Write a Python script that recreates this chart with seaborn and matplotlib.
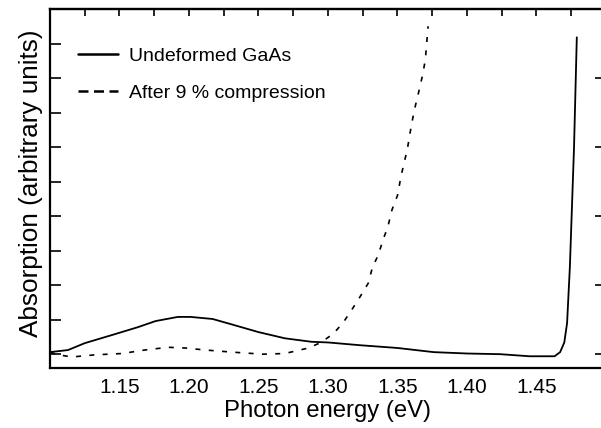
import numpy as np
import pandas as pd
import matplotlib
matplotlib.use("Agg")
import matplotlib.pyplot as plt
import seaborn as sns
from matplotlib.ticker import MultipleLocator, NullFormatter
from matplotlib.lines import Line2D

# Undeformed GaAs
x_undef = [1.100, 1.113, 1.125, 1.145, 1.163, 1.176, 1.192, 1.201, 1.217, 1.231,
           1.250, 1.269, 1.288, 1.300, 1.323, 1.350, 1.376, 1.400, 1.424, 1.445,
           1.463, 1.467, 1.470, 1.472, 1.474, 1.477, 1.479]
y_undef = [0.03, 0.06, 0.16, 0.28, 0.39, 0.48, 0.54, 0.54, 0.51, 0.43,
           0.32, 0.23, 0.18, 0.17, 0.13, 0.09, 0.03, 0.01, 0.00, -0.03,
           -0.03, 0.03, 0.17, 0.45, 1.26, 3.00, 4.59]

# After 9 % compression
x_comp = [1.100, 1.106, 1.116, 1.132, 1.152, 1.168, 1.185, 1.197, 1.212, 1.231,
          1.253, 1.269, 1.286, 1.295, 1.304, 1.311, 1.317, 1.323, 1.329, 1.332,
          1.336, 1.340, 1.343, 1.346, 1.350, 1.352, 1.354, 1.357, 1.359, 1.361,
          1.363, 1.366, 1.368, 1.370, 1.372]
y_comp = [0.03, -0.01, -0.04, -0.01, 0.01, 0.06, 0.10, 0.09, 0.06, 0.03,
          0.00, 0.01, 0.09, 0.17, 0.30, 0.46, 0.64, 0.83, 1.03, 1.26,
          1.43, 1.68, 1.84, 2.09, 2.30, 2.52, 2.71, 2.96, 3.20, 3.42,
          3.61, 3.86, 4.04, 4.26, 4.75]

labels = ["Undeformed GaAs", "After 9 % compression"]
xticks = [1.15, 1.20, 1.25, 1.30, 1.35, 1.40, 1.45]

sns.set_theme(style="white")
plt.rcParams['font.family'] = ['Liberation Sans', 'DejaVu Sans']
plt.rcParams.update({"text.color": "black", "axes.labelcolor": "black",
                     "xtick.color": "black", "ytick.color": "black"})

fig = plt.figure(figsize=(6.01, 4.28), dpi=100)
ax = fig.add_axes([50/601, 1-368/428, 556/601, 359/428])

df1 = pd.DataFrame({"x": x_undef, "y": y_undef})
df2 = pd.DataFrame({"x": x_comp, "y": y_comp})
sns.lineplot(data=df1, x="x", y="y", ax=ax, color="black", lw=1.3,
             sort=False, legend=False)
sns.lineplot(data=df2, x="x", y="y", ax=ax, color="black", lw=1.2,
             linestyle=(0, (3, 5)), sort=False, legend=False)

ax.set_xlim(1.10, 1.50)
ax.set_ylim(-0.2, 5.0)
ax.set_xticks(xticks)
ax.set_xticklabels([f"{t:.2f}" for t in xticks])
ax.xaxis.set_minor_locator(MultipleLocator(0.025))
ax.yaxis.set_major_locator(MultipleLocator(1))
ax.yaxis.set_minor_locator(MultipleLocator(0.5))
ax.yaxis.set_major_formatter(NullFormatter())
ax.tick_params(axis="x", which="major", direction="in", length=8, width=1.2,
               top=False, labelsize=15, pad=7, colors="black")
ax.tick_params(axis="x", which="minor", direction="in", length=5, width=1.2, top=False)
ax.tick_params(axis="y", which="major", direction="in", length=8, width=1.2,
               right=True, left=True)
ax.tick_params(axis="y", which="minor", direction="in", length=8, width=1.2,
               left=True, right=False)
for s in ax.spines.values():
    s.set_color("black")
    s.set_linewidth(1.6)

# top ticks all the same short length
top = ax.secondary_xaxis("top")
top.set_xticks(np.arange(1.125, 1.49, 0.025))
top.tick_params(axis="x", direction="in", length=5, width=1.2, labeltop=False,
                colors="black")
top.xaxis.set_major_formatter(NullFormatter())
top.spines["top"].set_linewidth(1.6)

ax.set_xlabel("Photon energy (eV)", fontsize=17.2, labelpad=2, color="black")
ax.set_ylabel("Absorption (arbitrary units)", fontsize=18.8, color="black")
ax.yaxis.set_label_coords(-0.013, 0.515)

handles = [Line2D([], [], color="black", lw=1.8),
           Line2D([], [], color="black", lw=1.8, linestyle=(0, (4, 2.2)))]
leg = ax.legend(handles, labels, loc="upper left", frameon=False, fontsize=14,
                handlelength=2.1, handletextpad=0.55, borderpad=0,
                labelspacing=0.98, bbox_to_anchor=(0.032, 0.92),
                labelcolor="black")

fig.savefig("out.png", dpi=100)
